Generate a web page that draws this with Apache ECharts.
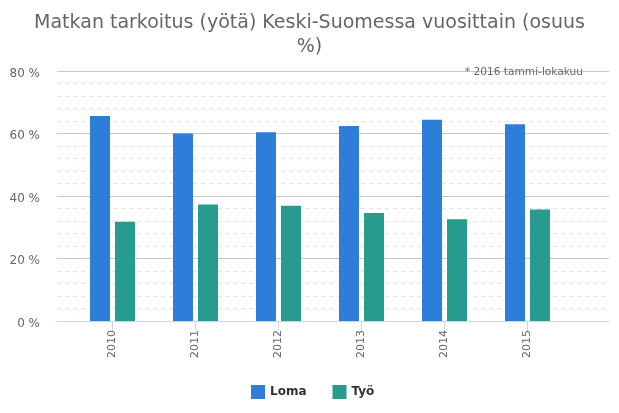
<!DOCTYPE html>
<html>
<head>
<meta charset="utf-8">
<script src="https://cdn.jsdelivr.net/npm/echarts@6/dist/echarts.min.js"></script>
<style>html,body{margin:0;padding:0;background:#fff}#c{width:619px;height:413px}</style>
</head>
<body>
<div id="c"></div>
<script>
var titleText = 'Matkan tarkoitus (yötä) Keski-Suomessa vuosittain (osuus\n%)';
var noteText = '* 2016 tammi-lokakuu';
var years = ['2010', '2011', '2012', '2013', '2014', '2015'];
var loma = [65.6, 60.0, 60.4, 62.4, 64.4, 63.0];
var tyo = [31.8, 37.3, 36.9, 34.6, 32.6, 35.7];
var seriesNames = ['Loma', 'Työ'];
var yTicks = [0, 20, 40, 60, 80];

var font = 'DejaVu Sans';
var chart = echarts.init(document.getElementById('c'), null, {renderer: 'canvas'});
chart.setOption({
  animation: false,
  textStyle: {fontFamily: font},
  title: [{
    text: titleText,
    left: 'center', top: 6,
    textStyle: {fontFamily: font, fontSize: 19, fontWeight: 'normal', color: '#666666', lineHeight: 24}
  }, {
    text: noteText,
    right: 31, top: 62,
    textStyle: {fontFamily: font, fontSize: 10.6, fontWeight: 'normal', color: '#666666'}
  }],
  legend: {
    bottom: 9, left: 246,
    padding: 5,
    itemWidth: 14, itemHeight: 14, itemGap: 26,
    icon: 'rect',
    textStyle: {fontFamily: font, fontSize: 12, fontWeight: 'bold', color: '#333333'},
    data: seriesNames
  },
  grid: [
    {left: 57, right: 10, top: 71, bottom: 92},
    {left: 71, right: 50, top: 71, bottom: 92}
  ],
  xAxis: [{
    type: 'category', gridIndex: 0, data: years,
    axisLine: {lineStyle: {color: '#ccd6eb'}},
    axisTick: {show: false}, axisLabel: {show: false}, splitLine: {show: false}
  }, {
    type: 'category', gridIndex: 1, data: years,
    axisLine: {show: false},
    axisTick: {show: true, alignWithLabel: true, length: 10, lineStyle: {color: '#ccd6eb'}},
    axisLabel: {rotate: 90, margin: 9, fontSize: 11, color: '#666666', fontFamily: font},
    splitLine: {show: false}
  }],
  yAxis: [{
    type: 'value', gridIndex: 0, min: 0, max: 80, interval: 20,
    axisLine: {show: false}, axisTick: {show: false},
    axisLabel: {
      formatter: function (v) { return yTicks.indexOf(v) >= 0 ? '{a|' + v + ' %}' : ''; },
      margin: 17,
      rich: {a: {fontSize: 12, color: '#666666', fontFamily: font, padding: [5, 0, 0, 0]}}
    },
    splitLine: {lineStyle: {color: '#c8c8c8', width: 1}},
    minorTick: {show: false, splitNumber: 5},
    minorSplitLine: {show: true, lineStyle: {color: '#e0e0e0', type: [4, 4], width: 1}}
  }, {
    type: 'value', gridIndex: 1, min: 0, max: 80, interval: 20, show: false,
    splitLine: {show: false}
  }],
  series: [{
    name: seriesNames[0], type: 'bar', xAxisIndex: 1, yAxisIndex: 1,
    data: loma, barWidth: 20, barGap: '25%',
    itemStyle: {color: '#2e7dd8'}
  }, {
    name: seriesNames[1], type: 'bar', xAxisIndex: 1, yAxisIndex: 1,
    data: tyo, barWidth: 20, barGap: '25%',
    itemStyle: {color: '#279b8e'}
  }]
});
</script>
</body>
</html>
